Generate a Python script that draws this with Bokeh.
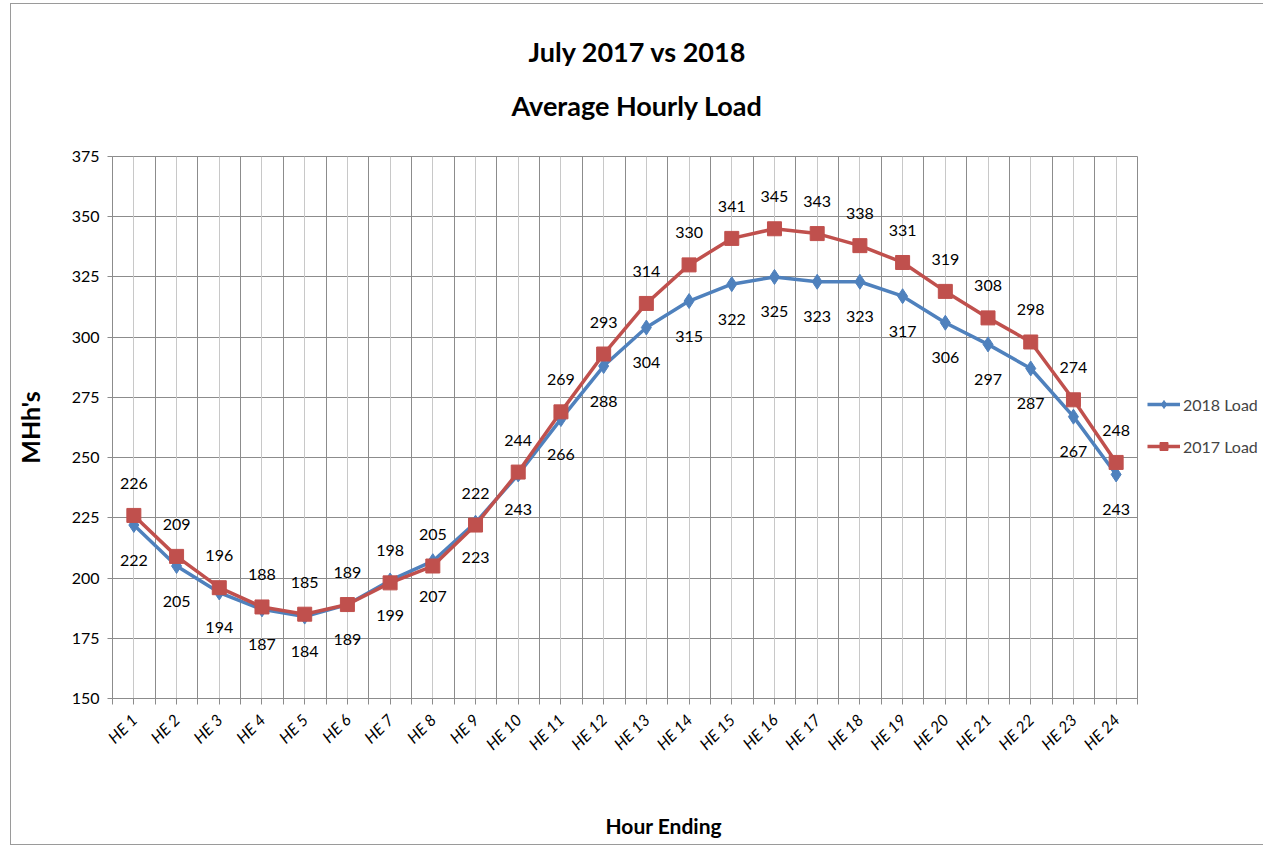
import math
from bokeh.plotting import figure
from bokeh.models import (FixedTicker, Grid, Title, Legend, LegendItem, ColumnDataSource)
from bokeh.core.properties import value
from bokeh.embed import file_html
from bokeh.resources import INLINE

hours = [f"HE {i}" for i in range(1, 25)]
load_2018 = [222, 205, 194, 187, 184, 189, 199, 207, 223, 243, 266, 288,
             304, 315, 322, 325, 323, 323, 317, 306, 297, 287, 267, 243]
load_2017 = [226, 209, 196, 188, 185, 189, 198, 205, 222, 244, 269, 293,
             314, 330, 341, 345, 343, 338, 331, 319, 308, 298, 274, 248]
y_ticks = [150, 175, 200, 225, 250, 275, 300, 325, 350, 375]
title_lines = ["July 2017 vs 2018", "Average Hourly Load"]

FONT = "Lato"
BLUE = "#4F81BD"
RED = "#C0504D"

xs = list(range(1, len(hours) + 1))
src18 = ColumnDataSource(dict(x=xs, y=load_2018, t=[str(v) for v in load_2018]))
src17 = ColumnDataSource(dict(x=xs, y=load_2017, t=[str(v) for v in load_2017]))

p = figure(frame_width=1025, frame_height=542,
           x_range=(0.5, len(hours) + 0.5), y_range=(y_ticks[0], y_ticks[-1]),
           output_backend="svg", toolbar_location=None,
           min_border_left=99, min_border_top=152,
           min_border_right=122, min_border_bottom=146)
p.styles = {"border": "1px solid #9a9a9a", "margin": "3px 0 0 10px"}
p.outline_line_color = "#8c8c8c"

# titles (the title added last sits nearest to the plot)
p.title.text = title_lines[0]
p.title.align = "left"
p.title.offset = 416
p.title.text_font = FONT
p.title.text_font_style = "bold"
p.title.text_font_size = "27px"
p.title.text_color = "black"
p.title.standoff = -32
p.add_layout(Title(text=title_lines[1], align="left", offset=399,
                   text_font=FONT, text_font_style="bold", text_font_size="27px",
                   text_color="black", standoff=70), "above")

# axes
half_ticks = [0.5 + 0.5 * i for i in range(2 * len(hours) + 1)]
p.xaxis.ticker = FixedTicker(ticks=half_ticks)
p.xaxis.major_label_overrides = {**{float(t): "" for t in half_ticks},
                                 **{float(i): h for i, h in zip(xs, hours)}}
p.xaxis.major_label_orientation = math.pi / 4
p.xaxis.major_label_text_font = FONT
p.xaxis.major_label_text_font_style = "italic"
p.xaxis.major_label_text_font_size = "16px"
p.xaxis.major_label_text_color = "black"
p.xaxis.major_label_standoff = 12
p.xaxis.minor_tick_line_color = None
p.xaxis.major_tick_out = 6
p.xaxis.major_tick_in = 0
p.xaxis.axis_line_color = "#8c8c8c"
p.xaxis.major_tick_line_color = "#8c8c8c"
# blank axis label used only as vertical spacing above the "Hour Ending" title
p.xaxis.axis_label = " "
p.xaxis.axis_label_text_font_size = "10px"
p.xaxis.axis_label_standoff = 34

p.yaxis.ticker = FixedTicker(ticks=y_ticks)
p.yaxis.major_label_text_font = FONT
p.yaxis.major_label_text_font_size = "16px"
p.yaxis.major_label_text_color = "black"
p.yaxis.minor_tick_line_color = None
p.yaxis.major_tick_out = 5
p.yaxis.major_tick_in = 0
p.yaxis.major_label_standoff = 8
p.yaxis.axis_line_color = "#8c8c8c"
p.yaxis.major_tick_line_color = "#8c8c8c"
p.yaxis.axis_label = "MHh's"
p.yaxis.axis_label_text_font = FONT
p.yaxis.axis_label_text_font_style = "bold"
p.yaxis.axis_label_text_font_size = "25px"
p.yaxis.axis_label_text_color = "black"
p.yaxis.axis_label_standoff = 24

p.add_layout(Title(text="Hour Ending", align="left", offset=493,
                   text_font=FONT, text_font_style="bold", text_font_size="21px",
                   text_color="black", standoff=0), "below")

# grids
p.xgrid.ticker = FixedTicker(ticks=[0.5 + i for i in range(len(hours) + 1)])
p.xgrid.grid_line_color = "#8c8c8c"
p.add_layout(Grid(dimension=0, ticker=FixedTicker(ticks=xs), grid_line_color="#c8c8c8"))
p.ygrid.ticker = FixedTicker(ticks=y_ticks)
p.ygrid.grid_line_color = "#8c8c8c"

# series
l18 = p.line("x", "y", source=src18, line_color=BLUE, line_width=3.5)
m18 = p.scatter("x", "y", source=src18, marker="diamond", size=15,
                fill_color=BLUE, line_color=BLUE)
l17 = p.line("x", "y", source=src17, line_color=RED, line_width=3.5)
m17 = p.scatter("x", "y", source=src17, marker="square", size=14,
                fill_color=RED, line_color=RED)

p.text("x", "y", text="t", source=src17, y_offset=-32, text_align="center",
       text_baseline="middle", text_font=value(FONT), text_font_size="16px",
       text_color="black")
p.text("x", "y", text="t", source=src18, y_offset=35, text_align="center",
       text_baseline="middle", text_font=value(FONT), text_font_size="16px",
       text_color="black")

legend = Legend(items=[LegendItem(label="2018 Load", renderers=[l18, m18]),
                       LegendItem(label="2017 Load", renderers=[l17, m17])],
                location=(10, 242), border_line_color=None,
                background_fill_alpha=0, label_text_font=FONT,
                label_text_font_size="16px", glyph_width=33, glyph_height=20,
                spacing=22, padding=0, margin=0, label_standoff=3)
p.add_layout(legend, "right")

open("out.html", "w").write(file_html(p, INLINE))
